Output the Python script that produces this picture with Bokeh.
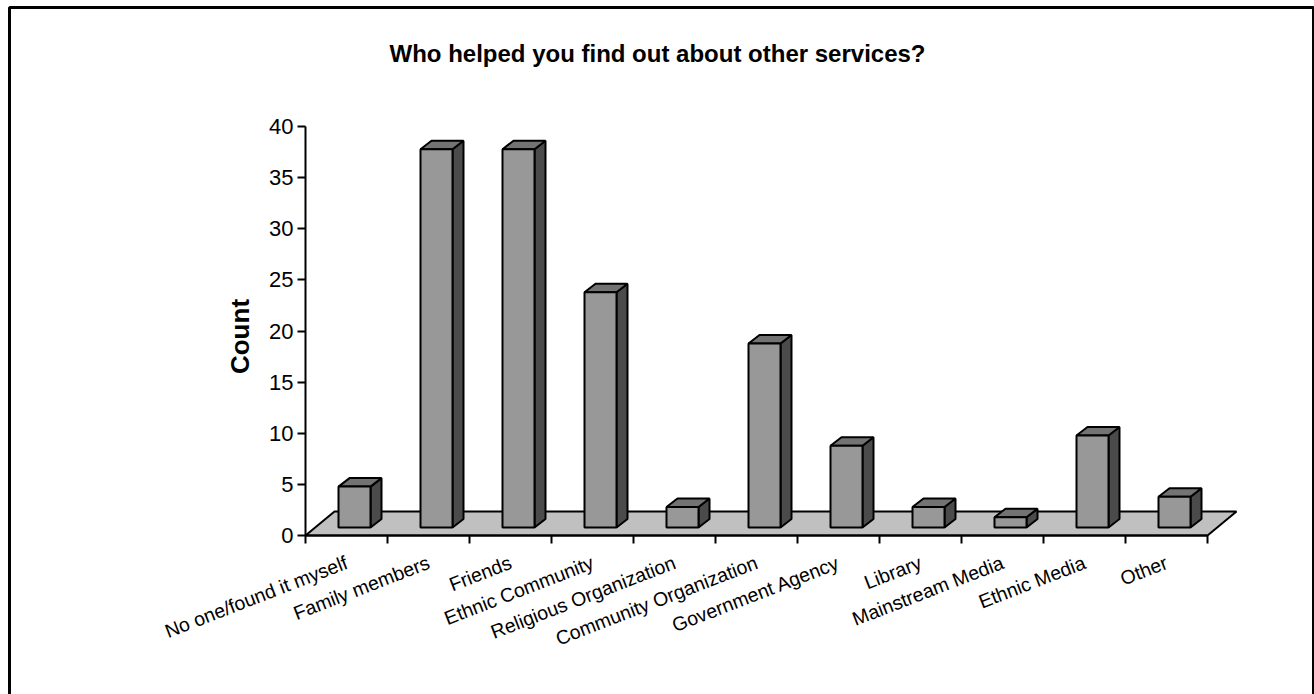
import math
from bokeh.plotting import figure
from bokeh.models import Range1d, LinearAxis, FixedTicker, Label
from bokeh.embed import file_html
from bokeh.resources import INLINE

# ---------------- data ----------------
categories = ["No one/found it myself", "Family members", "Friends", "Ethnic Community",
              "Religious Organization", "Community Organization", "Government Agency",
              "Library", "Mainstream Media", "Ethnic Media", "Other"]
counts = [4, 37, 37, 23, 2, 18, 8, 2, 1, 9, 3]
y_ticks = [0, 5, 10, 15, 20, 25, 30, 35, 40]
title_text = "Who helped you find out about other services?"
y_label = "Count"

# ---------------- layout constants ----------------
W, H = 1314, 694
X0_PX, DX_PX = 346.0, 82.0     # pixel centre of first category, category pitch
Y0_PX, DY_PX = 535.0, 10.225   # pixel of value 0, pixels per unit


def px2x(px):
    return (px - X0_PX) / DX_PX


def px2y(py):
    return (Y0_PX - py) / DY_PX


FONT = "Liberation Sans"
FLOOR_DX, FLOOR_DY = 29 / DX_PX, 24 / DY_PX      # floor depth
BAR_OFF = 8 / DX_PX                               # bar front x offset
BAR_BASE = 8 / DY_PX                              # bar front base height
BAR_HW = 16 / DX_PX                               # half width of front face
SIDE_DX, SIDE_DY = 11 / DX_PX, 8.5 / DY_PX        # bar depth

p = figure(width=W, height=H,
           x_range=Range1d(px2x(0), px2x(W)), y_range=Range1d(px2y(H), px2y(0)),
           x_axis_location=None, y_axis_location=None,
           toolbar_location=None, output_backend="svg", min_border=0)
p.outline_line_color = None
p.grid.grid_line_color = None
p.background_fill_color = "white"
p.border_fill_color = "white"

n = len(categories)
# floor
p.patch(x=[-0.5, n - 0.5, n - 0.5 + FLOOR_DX, -0.5 + FLOOR_DX],
        y=[0, 0, FLOOR_DY, FLOOR_DY],
        fill_color="#c0c0c0", line_color="black", line_width=2)

# bars
lefts = [i + BAR_OFF - BAR_HW for i in range(n)]
rights = [i + BAR_OFF + BAR_HW for i in range(n)]
bottoms = [BAR_BASE] * n
tops = [BAR_BASE + v for v in counts]

side_xs = [[r, r + SIDE_DX, r + SIDE_DX, r] for r in rights]
side_ys = [[b, b + SIDE_DY, t + SIDE_DY, t] for b, t in zip(bottoms, tops)]
top_xs = [[l, l + SIDE_DX, r + SIDE_DX, r] for l, r in zip(lefts, rights)]
top_ys = [[t, t + SIDE_DY, t + SIDE_DY, t] for t in tops]

p.patches(xs=side_xs, ys=side_ys, fill_color="#4b4b4b", line_color="black", line_width=2)
p.patches(xs=top_xs, ys=top_ys, fill_color="#737373", line_color="black", line_width=2)
p.quad(left=lefts, right=rights, bottom=bottoms, top=tops,
       fill_color="#989898", line_color="black", line_width=2)

# y axis
yaxis = LinearAxis(fixed_location=-0.5, bounds=(0, 40), ticker=FixedTicker(ticks=y_ticks))
yaxis.axis_line_width = 2
yaxis.axis_line_color = "black"
yaxis.major_tick_line_width = 2
yaxis.major_tick_out = 8
yaxis.major_tick_in = 0
yaxis.minor_tick_line_color = None
yaxis.major_label_text_font = FONT
yaxis.major_label_text_font_size = "22px"
yaxis.major_label_text_color = "black"
yaxis.major_label_standoff = 4
p.add_layout(yaxis, "left")

# y axis title
p.add_layout(Label(x=px2x(239), y=px2y(336), text=y_label, angle=math.pi / 2,
                   text_align="center", text_baseline="middle", text_font=FONT,
                   text_font_style="bold", text_font_size="26px", text_color="black"))

# x axis
centers = list(range(n))
bounds_ticks = [i - 0.5 for i in range(n + 1)]
xaxis = LinearAxis(fixed_location=0, bounds=(-0.5, n - 0.5),
                   ticker=FixedTicker(ticks=centers, minor_ticks=bounds_ticks))
xaxis.axis_line_width = 2
xaxis.axis_line_color = "black"
xaxis.major_tick_line_color = None
xaxis.major_tick_out = 0
xaxis.major_tick_in = 0
xaxis.minor_tick_line_color = "black"
xaxis.minor_tick_line_width = 2
xaxis.minor_tick_out = 8
xaxis.minor_tick_in = 0
xaxis.major_label_overrides = {i: c for i, c in enumerate(categories)}
xaxis.major_label_orientation = 0.37
xaxis.major_label_text_font = FONT
xaxis.major_label_text_font_size = "19.5px"
xaxis.major_label_text_color = "black"
xaxis.major_label_standoff = 18
p.add_layout(xaxis, "below")

# title
p.add_layout(Label(x=px2x(657), y=px2y(53), text=title_text, text_align="center",
                   text_baseline="alphabetic", text_font=FONT, text_font_style="bold",
                   text_font_size="24px", text_color="black"))

# chart border
p.line(x=[px2x(9), px2x(9), px2x(1313), px2x(1313)],
       y=[px2y(H + 10), px2y(7), px2y(7), px2y(H + 10)],
       line_color="black", line_width=3)

open("out.html", "w").write(file_html(p, INLINE))
